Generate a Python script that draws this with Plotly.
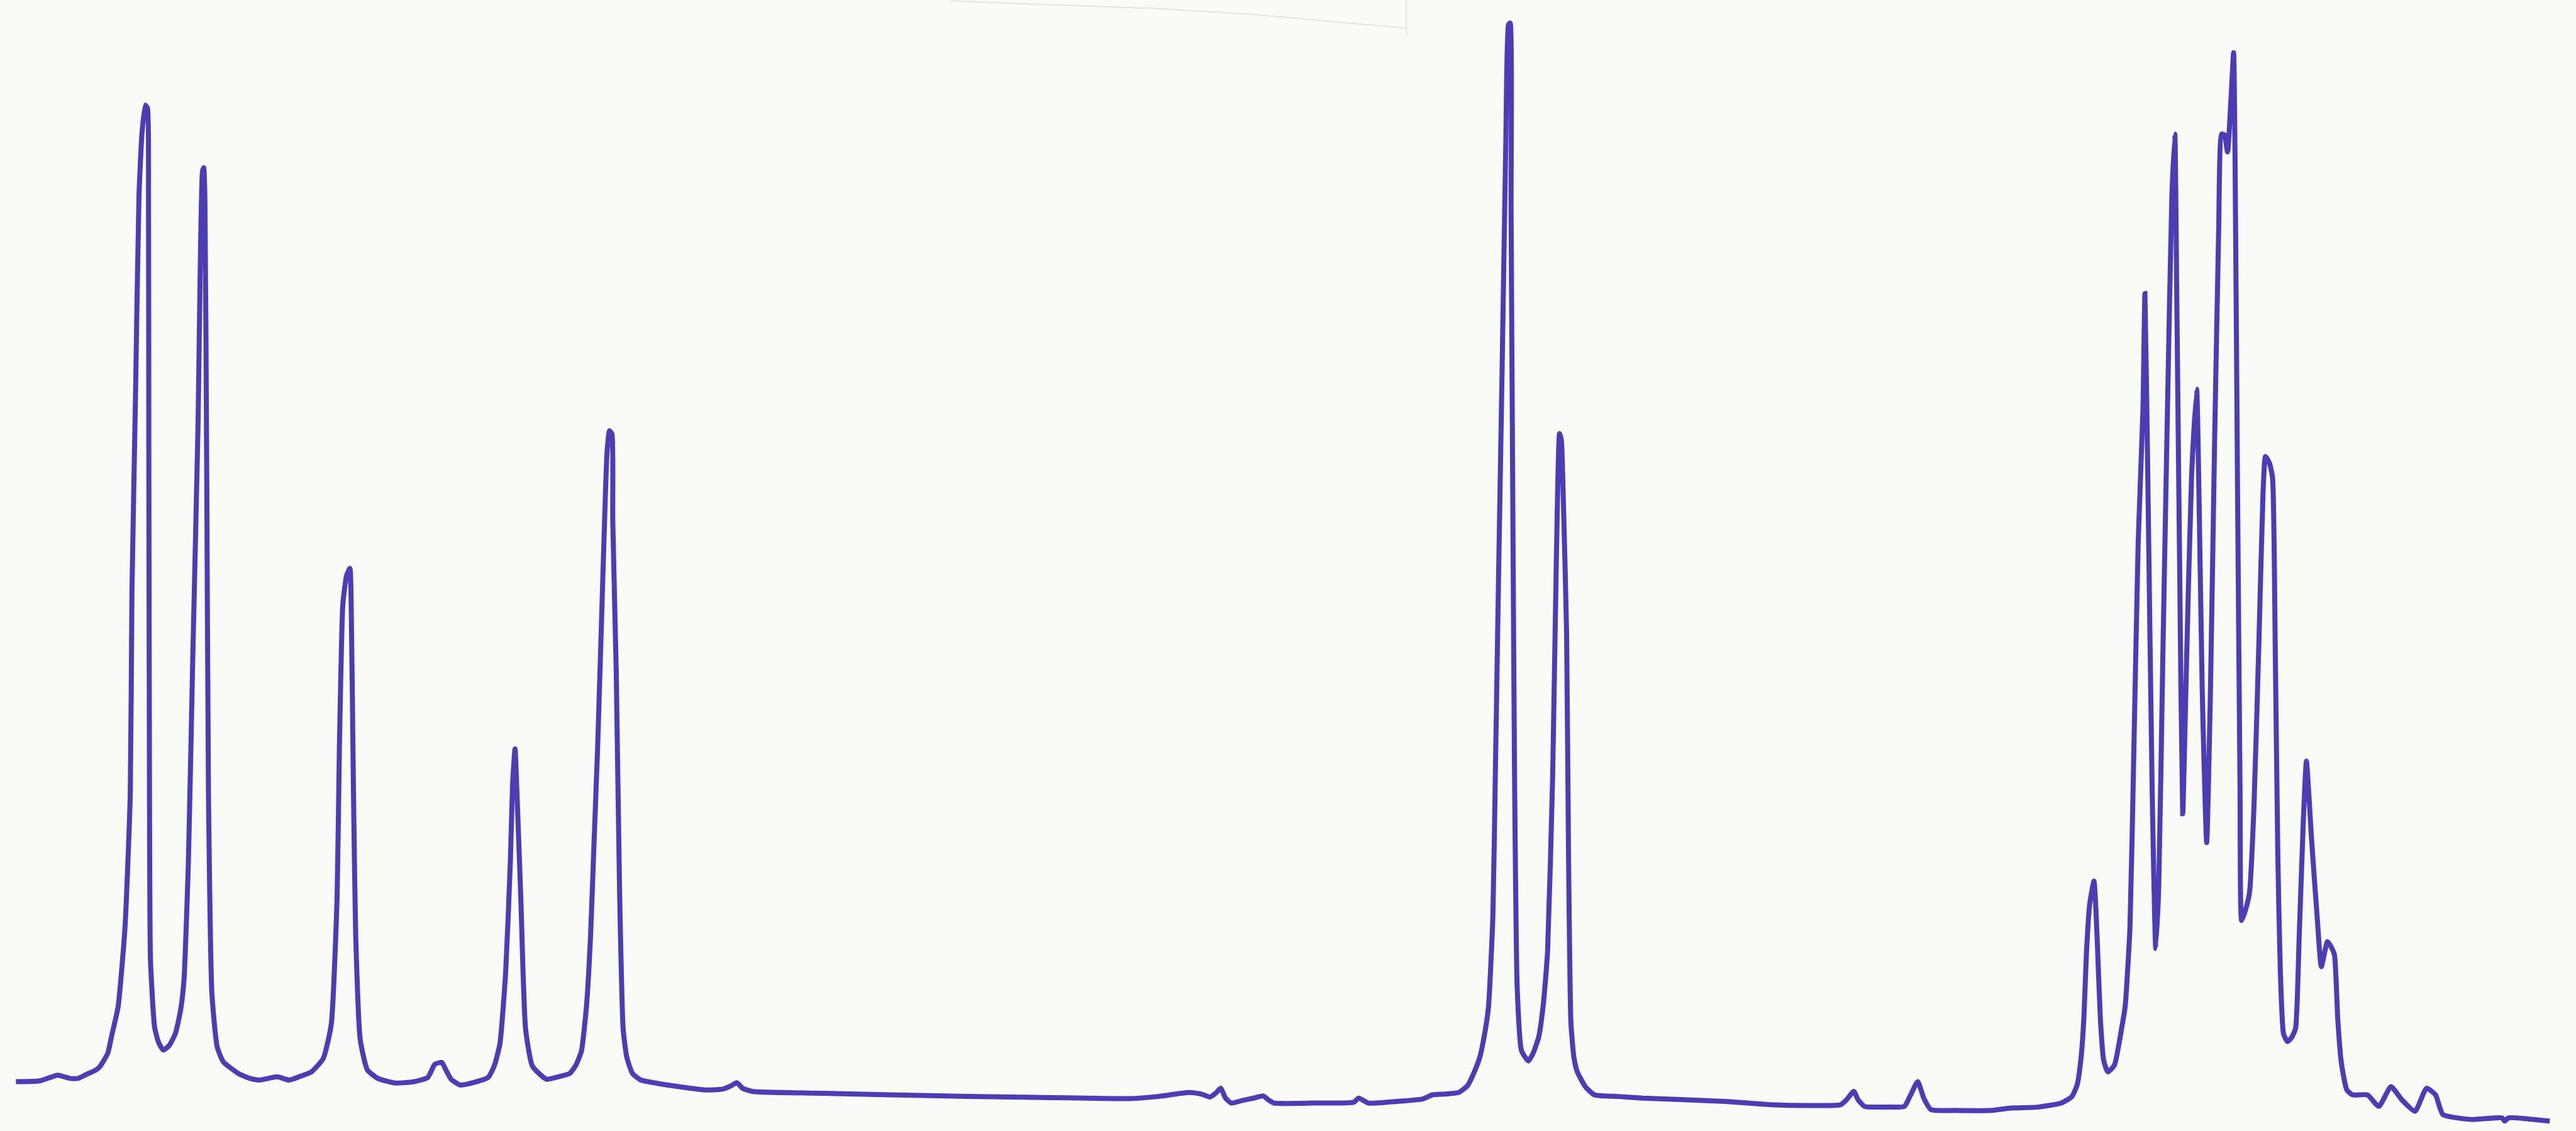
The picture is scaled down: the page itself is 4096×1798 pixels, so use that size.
import plotly.graph_objects as go

# Chart trace (time in arbitrary units, signal in arbitrary units)
time = [9.7, 24.3, 35.2, 42.5, 47.6, 52.2, 58.1, 60.7, 65.6, 68, 71.9, 76.1, 79.3, 80.3, 82.5, 84.6, 86.5, 88.5, 89.8, 90.4,
        90.6, 91.0, 91.6, 94.1, 96.5, 99.4, 103, 106.8, 110, 112, 114.7, 117.3, 120.5, 123.2, 124.0, 124.7, 125.8, 126.9, 129, 132.2,
        136, 145.6, 152.2, 157.8, 168.7, 176, 184, 189.6, 196.7, 201.6, 205.2, 206.6, 208.7, 211, 213, 213.7, 215.1, 216.5, 219.3, 223.6,
        230, 240.6, 252, 260.4, 264.7, 268.9, 271.5, 274.6, 280.2, 290, 297.2, 301, 304.3, 307.8, 310.7, 312, 313.5, 314.9, 317, 319.9,
        324.1, 332.6, 340, 346.8, 350.5, 353.9, 357, 359.5, 361.5, 363.8, 366.6, 368, 369.5, 371, 372.5, 373, 375.1, 377.2, 379.3, 381.5,
        385, 390, 400, 413, 429, 440, 445, 448.5, 452, 458.3, 500, 574.7, 630, 688, 705, 723.8, 731, 736.5, 740, 743,
        746, 749.5, 756, 763, 769, 772, 775.5, 800, 824, 827, 833, 850, 866, 872, 880, 888, 893.3, 897, 900.7, 903.5,
        906, 908.7, 910.2, 912.3, 914.5, 916.6, 918.2, 919.2, 919.8, 920.8, 921.9, 923.5, 926.1, 930.3, 933.5, 936.7, 939.5, 942, 945.1, 947.3,
        949.3, 950.4, 951.5, 953.6, 954.7, 956.2, 958, 960, 965, 970.5, 985, 1000, 1050, 1078.3, 1100, 1120.4, 1124, 1128.4, 1131, 1134.9,
        1150, 1159.2, 1163, 1167.3, 1171, 1175.4, 1190, 1212, 1224, 1240, 1254.7, 1261.2, 1264.4, 1266.8, 1268.5, 1270, 1272, 1274.6, 1276.5, 1278.5,
        1280.5, 1283, 1287, 1291.6, 1293.6, 1296.5, 1299, 1301.5, 1304.4, 1305.6, 1307.5, 1310, 1312.2, 1314, 1316.5, 1319.5, 1322, 1323.8, 1325, 1326.8,
        1328.6, 1331, 1334, 1337.1, 1338.5, 1340.5, 1343.2, 1345.5, 1348, 1350.5, 1352.3, 1354, 1355.9, 1358, 1359.6, 1360.5, 1362, 1363.5, 1364.5, 1367,
        1369.3, 1372, 1375, 1377.5, 1379, 1381.5, 1383.3, 1385, 1386.5, 1388, 1390, 1392.4, 1395, 1397.3, 1399.5, 1402, 1403.9, 1407, 1410.6, 1413,
        1416.7, 1419, 1421, 1423, 1425.1, 1428.5, 1432, 1441, 1448, 1455.4, 1462, 1470, 1477, 1482.5, 1487, 1505, 1523, 1524.5, 1527, 1552]

signal = [30, 30.5, 34, 32, 32, 34.2, 37, 39, 47.3, 58, 75.6, 124, 205, 326.4, 448, 569, 608, 624, 622, 569,
          408, 205, 104, 63.2, 54, 49.2, 52, 59.4, 74, 92, 164.6, 286, 427.4, 583.2, 586, 569, 407.4, 205, 83.5, 51.2,
          42, 34.7, 32, 31, 33, 31, 33.7, 36, 44, 64.6, 142.3, 234, 320.6, 338, 342.3, 325.2, 211, 119.4, 55.4, 37.2,
          32, 29.2, 30, 32.6, 40.6, 41.7, 37, 31.5, 28, 30, 32.6, 40, 53.1, 96.6, 165.1, 211, 232.5, 199.4, 142.3, 62.3,
          39.4, 31.5, 33, 35, 40, 48.6, 76, 119.4, 173, 234, 325.2, 371, 413, 426, 424, 371, 279.5, 142.3, 62.3, 45,
          35, 31, 29, 27, 25, 25.5, 27.5, 29.4, 26, 24, 23, 21.3, 20.5, 19.7, 21, 23.4, 22.5, 20.7, 23, 26,
          20, 17, 18.5, 20, 21.3, 19, 17, 17, 17.5, 20, 17, 18, 19.5, 22, 22.5, 23.5, 27.6, 35, 44.7, 58,
          75, 130.5, 216.3, 345, 473.6, 602.3, 673, 674, 559.4, 388, 216.3, 87.6, 49, 42.6, 48, 57.6, 78, 109.1, 216.3, 345,
          424.3, 420, 388, 302, 173.4, 66.2, 45, 36.2, 27, 22, 21, 20, 18, 16, 15.5, 16, 19, 24.1, 19, 15,
          14.6, 15, 22, 30, 20, 13, 12.5, 12.5, 14, 14.5, 17, 21, 28.3, 45.2, 69.6, 108, 138, 152, 118, 68,
          43, 36, 40, 63.4, 76, 124, 238, 358, 438.4, 509.4, 388, 208, 111, 148, 288, 448, 568, 606.4, 508, 338,
          193, 288, 398, 451.2, 388, 268, 175.4, 268, 418, 548, 606.4, 606, 595.6, 628, 656, 588, 388, 208, 128, 135,
          145.3, 198, 298, 388, 410.3, 406, 397.4, 288, 168, 98, 59, 54.4, 57, 62.4, 118, 188, 225, 178, 128, 100,
          115.2, 112, 107, 68, 42, 25, 22, 22, 15, 27, 19, 12, 26, 22, 10, 7, 8, 6, 8, 6]

# Faint scanner mark along the top edge
mark_time = [579, 640, 700, 760, 820, 856]
mark_signal = [687.4, 685, 683, 679.5, 674, 671]
mark_edge_time = [856, 856]
mark_edge_signal = [666, 688]

fig = go.Figure()
fig.add_trace(go.Scatter(x=mark_time, y=mark_signal, mode="lines",
                         line=dict(color="#e3e4e1", width=2), hoverinfo="skip"))
fig.add_trace(go.Scatter(x=mark_edge_time, y=mark_edge_signal, mode="lines",
                         line=dict(color="#e6e7e4", width=2), hoverinfo="skip"))
fig.add_trace(go.Scatter(x=time, y=signal, mode="lines",
                         line=dict(color="#4a3db6", width=8, shape="spline", smoothing=0.5)))

fig.update_layout(
    width=4096, height=1798,
    margin=dict(l=0, r=0, t=0, b=0),
    paper_bgcolor="#fafaf6", plot_bgcolor="#fafaf6",
    showlegend=False,
    xaxis=dict(range=[0, 1568], visible=False, fixedrange=True),
    yaxis=dict(range=[0, 688], visible=False, fixedrange=True),
)
fig.write_html(
    "out.html",
    config={"displayModeBar": False},
    post_script="document.body.style.margin='0';document.body.style.background='#fafaf6';"
                "document.documentElement.style.overflow='hidden';",
)
